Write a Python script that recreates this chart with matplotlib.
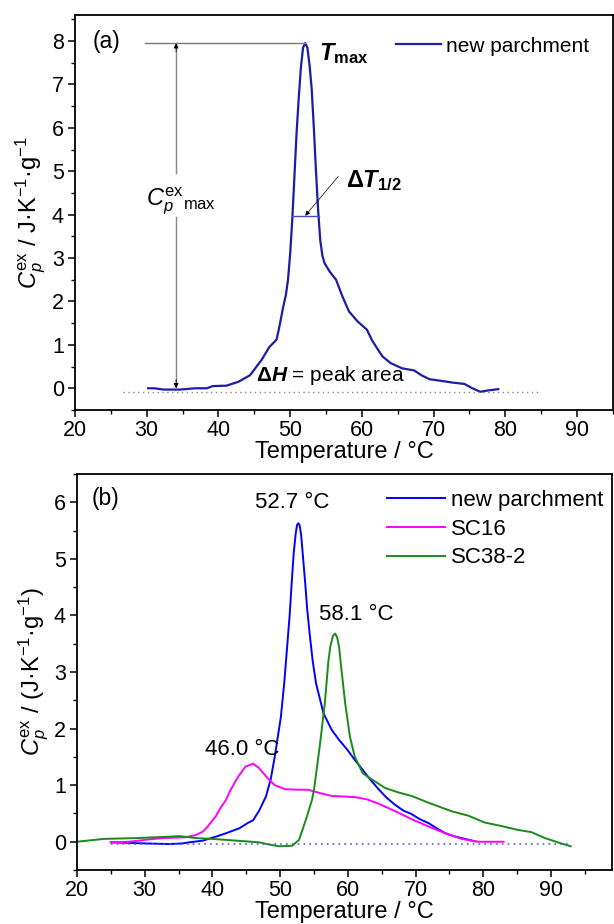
import matplotlib
matplotlib.use('Agg')
import matplotlib.pyplot as plt
import numpy as np

plt.rcParams['font.family'] = ['Liberation Sans', 'DejaVu Sans']
plt.rcParams['mathtext.fontset'] = 'custom'
plt.rcParams['mathtext.rm'] = 'Liberation Sans'
plt.rcParams['mathtext.it'] = 'Liberation Sans:italic'
plt.rcParams['mathtext.bf'] = 'Liberation Sans:bold'
plt.rcParams['mathtext.bfit'] = 'Liberation Sans:italic:bold'

# (a) new parchment, single scan
temp_a = [30.2, 31.0, 32.4, 34.6, 36.8, 38.4, 39.2, 41.1, 42.8, 44.4, 46.0, 47.1,
          48.1, 48.5, 49.0, 49.4, 49.7, 50.0, 50.3, 50.6, 50.9, 51.2, 51.5, 51.8,
          52.1, 52.4, 52.7, 53.0, 53.3, 53.6, 53.9, 54.2, 54.5, 54.8, 55.5, 56.4,
          57.3, 58.2, 59.4, 60.7, 61.4, 62.2, 62.9, 64.0, 65.6, 67.3, 68.3, 69.4,
          71.1, 72.7, 74.3, 75.4, 76.5, 77.6, 79.0]
cp_a = [0.0, 0.0, -0.03, -0.03, 0.0, 0.0, 0.05, 0.06, 0.15, 0.3, 0.65, 0.95,
        1.12, 1.42, 1.85, 2.15, 2.5, 3.1, 3.9, 4.9, 5.9, 6.7, 7.4, 7.85,
        7.95, 7.85, 7.45, 6.9, 6.0, 5.0, 4.1, 3.4, 3.05, 2.88, 2.69, 2.5,
        2.11, 1.77, 1.54, 1.35, 1.11, 0.9, 0.73, 0.58, 0.46, 0.41, 0.3, 0.21,
        0.17, 0.13, 0.1, 0.0, -0.08, -0.05, -0.02]

# (b) three samples
temp_new = [25.0, 28.8, 31.7, 33.7, 35.5, 36.6, 38.6, 40.5, 42.0, 44.0, 45.2, 46.0,
            46.9, 47.9, 48.6, 49.2, 50.1, 50.6, 51.0, 51.4, 51.7, 52.0, 52.3, 52.5,
            52.7, 52.9, 53.1, 53.4, 53.7, 54.0, 54.4, 54.8, 55.3, 56.4, 57.6, 58.7,
            59.9, 61.0, 62.2, 63.3, 64.6, 65.7, 67.0, 68.2, 69.4, 70.6, 71.9, 73.1,
            74.4, 75.6, 76.8, 78.0, 78.8]
cp_new = [-0.01, -0.025, -0.035, -0.04, -0.03, -0.01, 0.02, 0.09, 0.15, 0.24, 0.33, 0.38,
          0.55, 0.8, 1.1, 1.5, 2.2, 2.8, 3.4, 4.0, 4.57, 5.1, 5.45, 5.6,
          5.63, 5.58, 5.42, 5.0, 4.57, 4.1, 3.63, 3.2, 2.8, 2.27, 1.98, 1.8,
          1.63, 1.45, 1.27, 1.1, 0.92, 0.78, 0.65, 0.55, 0.49, 0.40, 0.33, 0.24,
          0.15, 0.10, 0.065, 0.03, 0.005]

temp_sc16 = [25.0, 27.7, 30.5, 32.7, 36.1, 37.6, 38.6, 39.1, 39.7, 40.5, 41.2, 42.0,
             42.6, 43.8, 44.9, 46.0, 46.9, 48.1, 49.2, 50.7, 52.4, 54.1, 55.9, 57.6,
             59.3, 61.0, 62.8, 64.6, 67.0, 69.4, 71.9, 74.4, 76.8, 79.3, 81.0, 83.0]
cp_sc16 = [-0.01, 0.0, 0.04, 0.065, 0.08, 0.12, 0.18, 0.24, 0.33, 0.45, 0.6, 0.74,
           0.9, 1.15, 1.33, 1.38, 1.3, 1.13, 1.0, 0.93, 0.92, 0.92, 0.86, 0.81,
           0.8, 0.79, 0.75, 0.67, 0.54, 0.40, 0.27, 0.15, 0.05, 0.0, 0.0, 0.0]

temp_sc38 = [20.0, 23.9, 28.8, 33.7, 35.1, 37.6, 40.0, 43.5, 46.9, 48.4, 49.9, 51.8,
             52.8, 53.8, 54.7, 55.0, 55.9, 56.6, 57.1, 57.4, 57.8, 58.1, 58.4, 58.7,
             59.0, 59.6, 60.3, 61.0, 62.2, 63.3, 64.6, 65.5, 67.5, 69.4, 71.9, 75.3,
             77.8, 80.2, 82.6, 85.1, 87.1, 89.1, 91.0, 92.9]
cp_sc38 = [0.0, 0.05, 0.065, 0.09, 0.1, 0.065, 0.05, 0.02, -0.01, -0.05, -0.08, -0.07,
           0.035, 0.39, 0.74, 0.92, 1.74, 2.45, 3.16, 3.45, 3.64, 3.68, 3.62, 3.45,
           3.1, 2.45, 1.86, 1.51, 1.21, 1.12, 1.02, 0.95, 0.87, 0.81, 0.69, 0.54,
           0.46, 0.34, 0.28, 0.21, 0.17, 0.065, -0.01, -0.08]

peak_labels = ['52.7 °C', '46.0 °C', '58.1 °C']

fs_tick = 15.5
fs_lab = 17
fig = plt.figure(figsize=(6.14, 9.24), dpi=100)
ax1 = fig.add_axes([0.1221, 0.5563, 0.8762, 0.4275])
ax2 = fig.add_axes([0.1254, 0.0584, 0.8713, 0.4286])

for ax in (ax1, ax2):
    for s in ax.spines.values():
        s.set_linewidth(1.3)
    ax.tick_params(which='major', direction='out', length=5, width=1.1, labelsize=fs_tick)
    ax.tick_params(which='minor', direction='out', length=3, width=1.0)
    ax.tick_params(axis='y', pad=3)
    ax.tick_params(axis='x', pad=2)
    ax.set_xticks(np.arange(20, 100, 10))
    ax.set_xticks(np.arange(25, 100, 10), minor=True)

# ---- (a)
ta = np.array(temp_a)
ca = np.array(cp_a)
ax1.plot(ta, ca, color='#1c1ca6', lw=1.6, label='new parchment')
ax1.plot([26.7, 84.8], [-0.08, -0.08], color='#888888', lw=1, ls=(0, (1, 2.5)))
ax1.set_xlim(20, 95)
ax1.set_ylim(-0.5, 8.6)
ax1.set_yticks(np.arange(0, 9, 1))
ax1.set_yticks(np.arange(-0.5, 8.6, 0.5), minor=True)
ax1.set_xlabel('Temperature / °C', fontsize=fs_lab, labelpad=0)
ax1.set_ylabel(r'$C_p^{\mathrm{ex}}$ / J·K$^{-1}$·g$^{-1}$', fontsize=fs_lab, labelpad=3)

ip = np.argmax(ca)
t_pk, c_pk = ta[ip], ca[ip]
x_arrow = 34.1
ax1.plot([29.8, t_pk], [c_pk, c_pk], color='#777777', lw=1)
ax1.plot([x_arrow, x_arrow], [c_pk, 4.95], color='#888888', lw=1)
ax1.plot([x_arrow, x_arrow], [3.95, 0.0], color='#888888', lw=1)
ax1.annotate('', xy=(x_arrow, c_pk), xytext=(x_arrow, c_pk - 0.2),
             arrowprops=dict(arrowstyle='-|>', color='k', lw=0.6, mutation_scale=7, shrinkA=0, shrinkB=0))
ax1.annotate('', xy=(x_arrow, 0.0), xytext=(x_arrow, 0.2),
             arrowprops=dict(arrowstyle='-|>', color='k', lw=0.6, mutation_scale=7, shrinkA=0, shrinkB=0))
ax1.text(34.8, 4.3, r'$C_p^{\mathrm{ex}}{}_{\mathrm{max}}$', fontsize=17, ha='center', va='center')

half = c_pk / 2
t_left = np.interp(half, ca[:ip + 1], ta[:ip + 1])
t_right = np.interp(half, ca[ip:][::-1], ta[ip:][::-1])
ax1.plot([t_left, t_right], [half, half], color='#4a4ac0', lw=1)
ax1.annotate('', xy=(52.1, half), xytext=(56.7, 4.88),
             arrowprops=dict(arrowstyle='-|>', color='k', lw=0.5, mutation_scale=7,
                             shrinkA=0, shrinkB=0))
ax1.text(57.8, 4.78, r'$\mathbf{\Delta}\mathbfit{T}_{\mathbf{1/2}}$', fontsize=17, ha='left', va='center')
ax1.text(54.0, 7.72, r'$\mathbfit{T}_{\mathbf{max}}$', fontsize=17, ha='left', va='center')
ax1.text(55.6, 0.3, r'$\mathbf{\Delta}\mathbfit{H}$ = peak area', fontsize=15, ha='center', va='center')
ax1.text(24.4, 8.0, '(a)', fontsize=16.5, ha='center', va='center')
ax1.legend(loc='upper left', bbox_to_anchor=(0.596, 0.945), frameon=False, fontsize=15,
           handlelength=2.2, handletextpad=0.2, borderpad=0, borderaxespad=0)

# ---- (b)
ax2.plot(temp_new, cp_new, color='#0000ff', lw=1.4, label='new parchment')
ax2.plot(temp_sc16, cp_sc16, color='#ff00ff', lw=1.4, label='SC16')
ax2.plot(temp_sc38, cp_sc38, color='#1a8a1a', lw=1.4, label='SC38-2')
ax2.plot([25.0, 92.9], [-0.035, -0.035], color='#5555ff', lw=1.2, ls=(0, (1, 2.5)))
ax2.set_xlim(20, 99)
ax2.set_ylim(-0.5, 6.5)
ax2.set_yticks(np.arange(0, 7, 1))
ax2.set_yticks(np.arange(-0.5, 6.6, 0.5), minor=True)
ax2.set_xlabel('Temperature / °C', fontsize=fs_lab, labelpad=0)
ax2.set_ylabel(r'$C_p^{\mathrm{ex}}$ / (J·K$^{-1}$·g$^{-1}$)', fontsize=fs_lab, labelpad=2)

ax2.text(51.8, 6.0, peak_labels[0], fontsize=16, ha='center', va='center')
ax2.text(44.4, 1.63, peak_labels[1], fontsize=16, ha='center', va='center')
ax2.text(61.3, 4.01, peak_labels[2], fontsize=16, ha='center', va='center')
ax2.text(24.2, 6.07, '(b)', fontsize=16.5, ha='center', va='center')
ax2.legend(loc='upper left', bbox_to_anchor=(0.579, 0.96), frameon=False, fontsize=16,
           handlelength=2.6, handletextpad=0.3, labelspacing=0.35, borderpad=0, borderaxespad=0)

fig.savefig('out.png', dpi=100)
